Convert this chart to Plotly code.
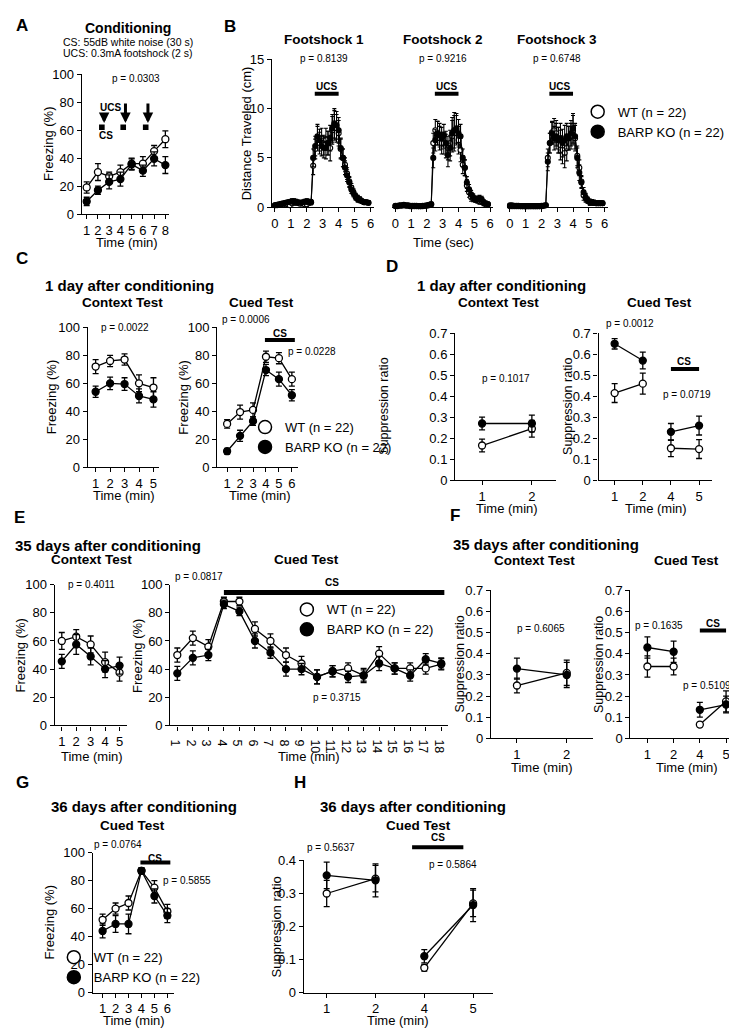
import plotly.graph_objects as go

W, H = 737, 1029
FONT = "Liberation Sans, Arial, Helvetica, sans-serif"

# ======================= DATA =======================
# A  Conditioning (freezing %, per minute)
A_min = [1, 2, 3, 4, 5, 6, 7, 8]
A_wt = [19, 30, 27, 30, 36, 36, 45, 53.5]
A_wt_err = [4, 6, 3, 5, 4, 5, 4, 6]
A_ko = [9, 17, 23, 25, 35.5, 31, 39.5, 35]
A_ko_err = [3, 3, 5, 5, 4, 4, 5, 6]
A_cs_start = [2.1, 4.0, 6.0]
A_cs_end = [2.6, 4.5, 6.5]
A_ucs_at = [2.55, 4.45, 6.45]
A_arrow_top = [73, 80, 80]

# B  Distance travelled around each footshock (sec)
B_sec = [0.00, 0.13, 0.27, 0.40, 0.53, 0.67, 0.80, 0.93, 1.07, 1.20, 1.33, 1.47, 1.60, 1.73, 1.87,
         2.00, 2.13, 2.27, 2.40, 2.53, 2.67, 2.80, 2.93, 3.07, 3.20, 3.33, 3.47, 3.60, 3.73, 3.87,
         4.00, 4.13, 4.27, 4.40, 4.53, 4.67, 4.80, 4.93, 5.07, 5.20, 5.33, 5.47, 5.60, 5.73, 5.87]
B1_ko = [0.2, 0.25, 0.3, 0.35, 0.4, 0.45, 0.5, 0.55, 0.6, 0.6, 0.55, 0.5, 0.45, 0.5, 0.55, 0.6, 0.55, 0.5,
         5.0, 6.2, 7.2, 6.8, 6.2, 6.0, 6.0, 6.5, 7.0, 8.0, 8.5, 8.3, 7.8, 6.0, 5.0, 4.0, 3.2, 2.5, 1.8, 1.4,
         1.1, 0.8, 0.7, 0.6, 0.5, 0.5, 0.45]
B1_wt = [0.2, 0.2, 0.25, 0.3, 0.3, 0.35, 0.3, 0.2, 0.4, 0.5, 0.45, 0.4, 0.35, 0.4, 0.3, 0.3, 0.45, 0.5,
         4.2, 5.9, 7.0, 6.5, 7.0, 6.3, 6.9, 6.5, 6.0, 7.8, 8.3, 8.0, 7.5, 5.9, 5.0, 4.3, 3.4, 2.6, 2.0, 1.5,
         1.0, 0.9, 0.8, 0.6, 0.5, 0.5, 0.45]
B1_err = [0.15, 0.15, 0.2, 0.2, 0.2, 0.2, 0.2, 0.2, 0.25, 0.25, 0.25, 0.2, 0.2, 0.2, 0.25, 0.25, 0.25, 0.25,
          0.9, 1.0, 1.2, 1.1, 1.0, 1.0, 1.1, 1.2, 1.3, 1.4, 1.5, 1.4, 1.3, 1.0, 0.9, 0.7, 0.6, 0.5, 0.4, 0.35,
          0.3, 0.3, 0.25, 0.2, 0.2, 0.2, 0.2]
B2_ko = [0.15, 0.15, 0.2, 0.2, 0.25, 0.2, 0.2, 0.15, 0.15, 0.15, 0.15, 0.1, 0.1, 0.15, 0.15, 0.2, 0.25, 0.3,
         5.0, 6.8, 7.5, 7.3, 7.0, 7.3, 6.5, 5.3, 6.0, 7.5, 7.8, 8.0, 7.5, 7.2, 5.0, 4.0, 2.5, 1.8, 1.3, 1.0,
         0.8, 0.8, 0.9, 0.8, 0.5, 0.4, 0.3]
B2_wt = [0.1, 0.1, 0.15, 0.15, 0.2, 0.15, 0.15, 0.1, 0.1, 0.1, 0.1, 0.1, 0.1, 0.1, 0.15, 0.15, 0.2, 0.3,
         6.5, 7.8, 7.5, 7.0, 6.5, 6.5, 6.2, 6.0, 6.5, 7.2, 7.5, 7.8, 6.8, 5.8, 4.3, 4.0, 2.2, 1.5, 1.0, 0.9,
         0.8, 0.7, 0.6, 0.6, 0.4, 0.3, 0.3]
B2_err = [0.1, 0.1, 0.1, 0.1, 0.1, 0.1, 0.1, 0.1, 0.1, 0.1, 0.1, 0.1, 0.1, 0.1, 0.1, 0.1, 0.15, 0.2,
          1.0, 1.1, 1.2, 1.2, 1.1, 1.1, 1.2, 1.2, 1.3, 1.6, 1.8, 1.5, 1.4, 1.2, 0.9, 0.8, 0.6, 0.5, 0.4, 0.35,
          0.3, 0.3, 0.3, 0.3, 0.25, 0.2, 0.2]
B3_ko = [0.2, 0.2, 0.15, 0.15, 0.15, 0.1, 0.1, 0.1, 0.1, 0.1, 0.1, 0.1, 0.1, 0.1, 0.1, 0.1, 0.15, 0.2,
         4.6, 6.5, 7.5, 7.0, 7.2, 6.8, 7.0, 6.5, 6.8, 7.2, 7.0, 7.5, 8.0, 7.2, 5.0, 3.5, 2.5, 1.5, 1.0, 0.7,
         0.5, 0.5, 0.45, 0.4, 0.4, 0.4, 0.4]
B3_wt = [0.1, 0.1, 0.1, 0.1, 0.1, 0.1, 0.1, 0.1, 0.1, 0.1, 0.1, 0.1, 0.1, 0.1, 0.1, 0.15, 0.15, 0.2,
         5.0, 6.5, 7.6, 7.8, 7.5, 6.8, 6.3, 5.8, 5.5, 6.0, 7.0, 7.2, 7.8, 7.0, 5.2, 4.0, 2.6, 1.2, 0.9, 0.7,
         0.5, 0.5, 0.45, 0.4, 0.4, 0.4, 0.4]
B3_err = [0.15, 0.15, 0.1, 0.1, 0.1, 0.1, 0.1, 0.1, 0.1, 0.1, 0.1, 0.1, 0.1, 0.1, 0.1, 0.1, 0.1, 0.15,
          0.9, 1.0, 1.1, 1.2, 1.3, 1.3, 1.5, 1.4, 1.5, 1.3, 1.2, 1.3, 1.5, 1.3, 1.0, 0.8, 0.6, 0.5, 0.4, 0.3,
          0.3, 0.25, 0.25, 0.2, 0.2, 0.2, 0.2]
B_ucs_start, B_ucs_end = 2.5, 4.0
B_titles = ["Footshock 1", "Footshock 2", "Footshock 3"]
B_pvals = ["p = 0.8139", "p = 0.9216", "p = 0.6748"]

# C  1 day after conditioning (freezing %)
C_ctx_min = [1, 2, 3, 4, 5]
C_ctx_wt = [72, 76, 77, 60, 57]
C_ctx_wt_err = [5, 4, 4, 6, 7]
C_ctx_ko = [54, 60, 59.5, 51, 48.5]
C_ctx_ko_err = [4, 4.5, 4.5, 5, 5.5]
C_cue_min = [1, 2, 3, 4, 5, 6]
C_cue_wt = [31, 39.5, 41, 79, 78, 63]
C_cue_wt_err = [3, 5, 5, 4, 4, 5]
C_cue_ko = [11.5, 22.5, 33, 69.5, 63, 51.5]
C_cue_ko_err = [2, 4, 3, 4, 5, 4]
C_cs = (3.92, 6.23)

# D  1 day after conditioning (suppression ratio)
SR_labels = ["1", "2", "4", "5"]
SR_pos = [1, 2, 3, 4]
D_ctx_wt = [0.165, 0.245]
D_ctx_wt_err = [0.03, 0.04]
D_ctx_ko = [0.27, 0.27]
D_ctx_ko_err = [0.03, 0.04]
D_cue_wt = [0.415, 0.46, 0.152, 0.148]
D_cue_wt_err = [0.045, 0.05, 0.04, 0.045]
D_cue_ko = [0.65, 0.57, 0.23, 0.26]
D_cue_ko_err = [0.025, 0.04, 0.04, 0.045]

# E  35 days after conditioning (freezing %)
E_ctx_min = [1, 2, 3, 4, 5]
E_ctx_wt = [60, 63, 57.5, 45, 37.5]
E_ctx_wt_err = [6, 5, 6, 7, 6]
E_ctx_ko = [45.5, 57.5, 49, 40, 42.5]
E_ctx_ko_err = [5, 7, 6, 6, 6]
E_cue_min = [1, 2, 3, 4, 5, 6, 7, 8, 9, 10, 11, 12, 13, 14, 15, 16, 17, 18]
E_cue_wt = [50, 62, 56, 88, 88, 68.5, 60, 50, 44, 34.5, 38.5, 40.5, 35.5, 51, 40.5, 40.5, 40.5, 43.5]
E_cue_wt_err = [5, 5, 5, 3, 3, 5, 5, 5, 5, 5, 4, 4, 4, 5, 4, 4, 4, 4]
E_cue_ko = [37, 48, 50, 86, 81, 60, 51.7, 40, 40, 34.5, 38.5, 34.5, 35.5, 44, 40.5, 35.5, 47, 44]
E_cue_ko_err = [5, 5, 4, 3, 3, 5, 4, 5, 4, 5, 4, 4, 5, 5, 4, 4, 4, 4]
E_cs = (4.0, 18.2)

# F  35 days after conditioning (suppression ratio)
F_ctx_wt = [0.25, 0.31]
F_ctx_wt_err = [0.035, 0.06]
F_ctx_ko = [0.33, 0.30]
F_ctx_ko_err = [0.05, 0.06]
F_cue_wt = [0.34, 0.34, 0.065, 0.175]
F_cue_wt_err = [0.05, 0.04, 0.01, 0.05]
F_cue_ko = [0.43, 0.41, 0.135, 0.16]
F_cue_ko_err = [0.05, 0.05, 0.035, 0.04]

# G  36 days after conditioning (freezing %)
G_min = [1, 2, 3, 4, 5, 6]
G_wt = [52, 60, 64, 87, 75, 58]
G_wt_err = [4, 4, 5, 2, 5, 5]
G_ko = [44, 49, 49, 87, 69, 55]
G_ko_err = [5, 6, 7, 2, 5, 5]
G_cs = (3.92, 6.23)

# H  36 days after conditioning (suppression ratio)
H_wt = [0.30, 0.345, 0.075, 0.27]
H_wt_err = [0.04, 0.04, 0.01, 0.04]
H_ko = [0.355, 0.34, 0.11, 0.265]
H_ko_err = [0.04, 0.05, 0.02, 0.05]
H_cs = (2.75, 3.8)

FREEZE_TICKS = [0, 20, 40, 60, 80, 100]
SR_TICKS = [0, 0.1, 0.2, 0.3, 0.4, 0.5, 0.6, 0.7]
SR_TICKTEXT = ["0", "0.1", "0.2", "0.3", "0.4", "0.5", "0.6", "0.7"]

# ======================= FIGURE =======================
fig = go.Figure()
layout = {}
annotations = []
shapes = []

AX = dict(showline=True, linecolor="black", linewidth=1.3, ticks="outside", ticklen=4,
          tickwidth=1.3, tickcolor="black", showgrid=False, zeroline=False,
          tickfont=dict(size=13, color="black", family=FONT), fixedrange=True)


def sfx(i):
    return "" if i == 1 else str(i)


def make_axes(i, xl, xr, yt, yb, xrng, yrng, xtv, xtt, ytv, ytt, show_y=True, xfont=13):
    s = sfx(i)
    xa = dict(domain=[xl / W, xr / W], range=xrng, anchor="y" + s,
              tickmode="array", tickvals=xtv, ticktext=xtt, **AX)
    xa["tickfont"] = dict(size=xfont, color="black", family=FONT)
    ya = dict(domain=[1 - yb / H, 1 - yt / H], range=yrng, anchor="x" + s,
              tickmode="array", tickvals=ytv, ticktext=ytt, **AX)
    if not show_y:
        ya.update(showline=False, ticks="", showticklabels=False)
    layout["xaxis" + s] = xa
    layout["yaxis" + s] = ya


def add_pair(i, x, wt, wt_e, ko, ko_e, msize=7, lw=1.3, cap=3):
    s = sfx(i)
    for y, e, fill in [(wt, wt_e, "white"), (ko, ko_e, "black")]:
        fig.add_trace(go.Scatter(
            x=x, y=y, xaxis="x" + s, yaxis="y" + s, mode="lines+markers",
            line=dict(color="black", width=lw),
            marker=dict(size=msize, color=fill, line=dict(color="black", width=lw)),
            error_y=dict(type="data", array=e, color="black", thickness=lw, width=cap),
            showlegend=False, cliponaxis=False, hoverinfo="skip"))


def add_legend(lid, cx, cy):
    for name, fill in [("WT (n = 22)", "white"), ("BARP KO (n = 22)", "black")]:
        fig.add_trace(go.Scatter(x=[None], y=[None], mode="markers", name=name, legend=lid,
                                 marker=dict(size=13, color=fill, line=dict(color="black", width=1.5)),
                                 showlegend=True, hoverinfo="skip"))
    layout[lid] = dict(x=(cx - 24) / W, y=1 - (cy - 14) / H, xanchor="left", yanchor="top",
                       font=dict(size=13, family=FONT, color="black"), bgcolor="rgba(0,0,0,0)",
                       borderwidth=0, tracegroupgap=0, itemwidth=30, traceorder="normal",
                       itemsizing="trace")


def txt(s, x, y, size=13, bold=False, xanchor="center", yanchor="middle", angle=0):
    annotations.append(dict(text=("<b>%s</b>" % s) if bold else s, x=x / W, y=1 - y / H,
                            xref="paper", yref="paper", showarrow=False, xanchor=xanchor,
                            yanchor=yanchor, textangle=angle,
                            font=dict(size=size, family=FONT, color="black")))


def bar(i, x0, x1, y, yref=None, width=4):
    s = sfx(i)
    shapes.append(dict(type="line", xref="x" + s, yref=yref or ("y" + s), x0=x0, x1=x1, y0=y, y1=y,
                       line=dict(color="black", width=width)))


# ---------- Panel A ----------
make_axes(1, 72, 160, 60, 202, [0.557, 8.354], [0, 100], A_min, [str(v) for v in A_min],
          FREEZE_TICKS, [str(v) for v in FREEZE_TICKS])
add_pair(1, A_min, A_wt, A_wt_err, A_ko, A_ko_err)
for a, b in zip(A_cs_start, A_cs_end):
    shapes.append(dict(type="rect", xref="x", yref="y", x0=a, x1=b, y0=60, y1=64,
                       fillcolor="black", line=dict(width=0)))
for xu, top in zip(A_ucs_at, A_arrow_top):
    annotations.append(dict(x=xu, y=65, ax=xu, ay=top, xref="x", yref="y", axref="x", ayref="y",
                            text="", showarrow=True, arrowhead=2, arrowsize=0.7, arrowwidth=3,
                            arrowcolor="black"))
txt("A", 4, 11, 17, True, "left")
txt("Conditioning", 118, 13, 14, True)
txt("CS: 55dB white noise (30 s)", 118, 27, 10.5)
txt("UCS: 0.3mA footshock (2 s)", 118, 39, 10.5)
txt("p = 0.0303", 127, 64, 10)
txt("UCS", 101, 94, 10, True)
txt("CS", 96, 122, 10, True)
txt("Freezing (%)", 38, 131, 13, angle=-90)
txt("Time (min)", 117, 231, 13)

# ---------- Panel B ----------
B_x = [(263, 365), (384, 485), (499, 600)]
B_centers = [315, 435, 549]
B_data = [(B1_wt, B1_ko, B1_err), (B2_wt, B2_ko, B2_err), (B3_wt, B3_ko, B3_err)]
for k in range(3):
    i = 2 + k
    xl, xr = B_x[k]
    make_axes(i, xl, xr, 45, 195, [-0.19, 6.19], [0, 15], [0, 1, 2, 3, 4, 5, 6],
              ["0", "1", "2", "3", "4", "5", "6"], [0, 5, 10, 15], ["0", "5", "10", "15"], show_y=(k == 0))
    wt, ko, er = B_data[k]
    add_pair(i, B_sec, wt, er, ko, er, msize=5, lw=1.1, cap=2)
    bar(i, B_ucs_start, B_ucs_end, 11.5)
    txt(B_titles[k], B_centers[k], 25, 13.5, True)
    txt(B_pvals[k], B_centers[k], 44, 10)
    txt("UCS", B_centers[k] + 3, 73, 10, True)
txt("B", 213, 12, 17, True, "left")
txt("Distance Traveled (cm)", 237, 120, 13, angle=-90)
txt("Time (sec)", 435, 231, 13)
add_legend("legend", 594, 97)

# ---------- Panel C ----------
make_axes(5, 78, 150, 317, 459, [0.45, 5.41], [0, 100], C_ctx_min, [str(v) for v in C_ctx_min],
          FREEZE_TICKS, [str(v) for v in FREEZE_TICKS])
add_pair(5, C_ctx_min, C_ctx_wt, C_ctx_wt_err, C_ctx_ko, C_ctx_ko_err)
make_axes(6, 208, 289, 317, 459, [0.231, 6.46], [0, 100], C_cue_min, [str(v) for v in C_cue_min],
          FREEZE_TICKS, [str(v) for v in FREEZE_TICKS])
add_pair(6, C_cue_min, C_cue_wt, C_cue_wt_err, C_cue_ko, C_cue_ko_err)
bar(6, C_cs[0], C_cs[1], 91)
txt("C", 4, 247, 17, True, "left")
txt("1 day after conditioning", 33, 275, 15, True, "left")
txt("Context Test", 113, 292, 13.5, True)
txt("Cued Test", 253, 292, 13.5, True)
txt("p = 0.0022", 115, 317, 10)
txt("p = 0.0006", 237, 309, 10)
txt("CS", 271, 323, 10, True)
txt("p = 0.0228", 303, 341, 10)
txt("Freezing (%)", 42, 388, 13, angle=-90)
txt("Freezing (%)", 174, 388, 13, angle=-90)
txt("Time (min)", 114, 488, 13)
txt("Time (min)", 251, 488, 13)
add_legend("legend2", 260, 417)

# ---------- Panel D ----------
make_axes(7, 447, 548, 323, 472, [0.46, 2.48], [0, 0.7], [1, 2], ["1", "2"], SR_TICKS, SR_TICKTEXT)
add_pair(7, [1, 2], D_ctx_wt, D_ctx_wt_err, D_ctx_ko, D_ctx_ko_err)
make_axes(8, 591, 705, 323, 472, [0.43, 4.464], [0, 0.7], SR_pos, SR_labels, SR_TICKS, SR_TICKTEXT)
add_pair(8, SR_pos[:2], D_cue_wt[:2], D_cue_wt_err[:2], D_cue_ko[:2], D_cue_ko_err[:2])
add_pair(8, SR_pos[2:], D_cue_wt[2:], D_cue_wt_err[2:], D_cue_ko[2:], D_cue_ko_err[2:])
bar(8, SR_pos[2], SR_pos[3], 0.53)
txt("D", 376, 255, 17, True, "left")
txt("1 day after conditioning", 407, 275, 15, True, "left")
txt("Context Test", 490, 292, 13.5, True)
txt("Cued Test", 652, 292, 13.5, True)
txt("p = 0.1017", 498, 369, 10)
txt("p = 0.0012", 623, 313, 10)
txt("CS", 677, 352, 10, True)
txt("p = 0.0719", 680, 385, 10)
txt("Suppression ratio", 376, 397, 12.5, angle=-90)
txt("Suppression ratio", 560, 397, 12.5, angle=-90)
txt("Time (min)", 499, 501, 13)
txt("Time (min)", 649, 501, 13)

# ---------- Panel E ----------
make_axes(9, 45, 117, 578, 721, [0.517, 5.483], [0, 100], E_ctx_min, [str(v) for v in E_ctx_min],
          FREEZE_TICKS, [str(v) for v in FREEZE_TICKS])
add_pair(9, E_ctx_min, E_ctx_wt, E_ctx_wt_err, E_ctx_ko, E_ctx_ko_err)
make_axes(10, 161, 440, 578, 721, [0.551, 18.449], [0, 100], E_cue_min, [str(v) for v in E_cue_min],
          FREEZE_TICKS, [str(v) for v in FREEZE_TICKS], xfont=12.5)
add_pair(10, E_cue_min, E_cue_wt, E_cue_wt_err, E_cue_ko, E_cue_ko_err)
bar(10, E_cs[0], E_cs[1], 94.4, width=5)
txt("E", 2, 510, 17, True, "left")
txt("35 days after conditioning", 3, 538, 15, True, "left")
txt("Context Test", 82, 553, 13.5, True)
txt("Cued Test", 298, 553, 13.5, True)
txt("p = 0.4011", 82, 578, 10)
txt("p = 0.0817", 190, 570, 10)
txt("CS", 323, 576, 10, True)
txt("p = 0.3715", 328, 693, 10)
txt("Freezing (%)", 11, 650, 13, angle=-90)
txt("Freezing (%)", 128, 650, 13, angle=-90)
txt("Time (min)", 82, 752, 13)
txt("Time (min)", 300, 752, 13)
add_legend("legend3", 302, 602)

# ---------- Panel F ----------
make_axes(11, 483, 585, 584, 734, [0.48, 2.52], [0, 0.7], [1, 2], ["1", "2"], SR_TICKS, SR_TICKTEXT)
add_pair(11, [1, 2], F_ctx_wt, F_ctx_wt_err, F_ctx_ko, F_ctx_ko_err)
make_axes(12, 623, 730, 584, 734, [0.354, 4.418], [0, 0.7], SR_pos, SR_labels, SR_TICKS, SR_TICKTEXT)
add_pair(12, SR_pos[:2], F_cue_wt[:2], F_cue_wt_err[:2], F_cue_ko[:2], F_cue_ko_err[:2])
add_pair(12, SR_pos[2:], F_cue_wt[2:], F_cue_wt_err[2:], F_cue_ko[2:], F_cue_ko_err[2:])
bar(12, SR_pos[2], SR_pos[3], 0.51)
txt("F", 440, 508, 17, True, "left")
txt("35 days after conditioning", 443, 537, 15, True, "left")
txt("Context Test", 527, 554, 13.5, True)
txt("Cued Test", 679, 554, 13.5, True)
txt("p = 0.6065", 533, 623, 10)
txt("p = 0.1635", 652, 620, 10)
txt("CS", 706, 617, 10, True)
txt("p = 0.5109", 700, 680, 10)
txt("Suppression ratio", 452, 659, 12.5, angle=-90)
txt("Suppression ratio", 592, 659, 12.5, angle=-90)
txt("Time (min)", 534, 764, 13)
txt("Time (min)", 680, 764, 13)

# ---------- Panel G ----------
make_axes(13, 83, 165, 850, 992, [0.231, 6.538], [0, 100], G_min, [str(v) for v in G_min],
          FREEZE_TICKS, [str(v) for v in FREEZE_TICKS])
add_pair(13, G_min, G_wt, G_wt_err, G_ko, G_ko_err)
bar(13, G_cs[0], G_cs[1], 93)
txt("G", 4, 779, 17, True, "left")
txt("36 days after conditioning", 135, 803, 15, True)
txt("Cued Test", 123, 822, 13.5, True)
txt("p = 0.0764", 108, 842, 10)
txt("CS", 146, 856, 10, True)
txt("p = 0.5855", 178, 878, 10)
txt("Freezing (%)", 40, 921, 13, angle=-90)
txt("Time (min)", 125, 1020, 13)
add_legend("legend4", 68, 955)

# ---------- Panel H ----------
make_axes(14, 295, 485, 858, 992, [0.531, 4.408], [0, 0.4], SR_pos, SR_labels,
          SR_TICKS[:5], SR_TICKTEXT[:5])
add_pair(14, SR_pos[:2], H_wt[:2], H_wt_err[:2], H_ko[:2], H_ko_err[:2])
add_pair(14, SR_pos[2:], H_wt[2:], H_wt_err[2:], H_ko[2:], H_ko_err[2:])
bar(14, H_cs[0], H_cs[1], 1.1, yref="y14 domain")
txt("H", 283, 779, 17, True, "left")
txt("36 days after conditioning", 405, 803, 15, True)
txt("Cued Test", 410, 822, 13.5, True)
txt("p = 0.5637", 322, 845, 10)
txt("CS", 430, 835, 10, True)
txt("p = 0.5864", 445, 862, 10)
txt("Suppression ratio", 268, 925, 13, angle=-90)
txt("Time (min)", 390, 1020, 13)

layout.update(dict(width=W, height=H, margin=dict(l=0, r=0, t=0, b=0), paper_bgcolor="white",
                   plot_bgcolor="white", font=dict(family=FONT, color="black"),
                   annotations=annotations, shapes=shapes, hovermode=False))
fig.update_layout(**layout)
fig.write_html("out.html")
